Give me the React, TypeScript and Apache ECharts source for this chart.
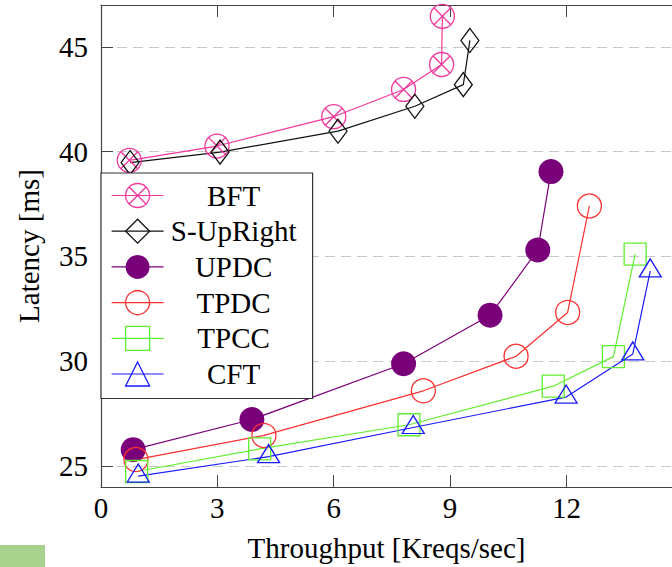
import React, { useEffect, useRef } from "react";
import * as echarts from "echarts";

const seriesNames = ["BFT", "S-UpRight", "UPDC", "TPDC", "TPCC", "CFT"];

const bftX = [0.73, 2.99, 6.0, 7.8, 8.78, 8.8];
const bftY = [39.59, 40.27, 41.67, 42.97, 44.16, 46.46];
const supX = [0.75, 3.07, 6.11, 8.09, 9.34, 9.51];
const supY = [39.48, 39.98, 40.98, 42.17, 43.2, 45.31];
const updcX = [0.83, 3.89, 7.8, 10.03, 11.26, 11.6];
const updcY = [25.78, 27.22, 29.88, 32.2, 35.31, 39.05];
const tpdcX = [0.9, 4.2, 8.31, 10.7, 12.03, 12.59];
const tpdcY = [25.31, 26.46, 28.59, 30.24, 32.33, 37.41];
const tpccX = [0.92, 4.09, 7.94, 11.66, 13.21, 13.77];
const tpccY = [24.74, 25.82, 26.97, 28.81, 30.22, 35.11];
const cftX = [0.96, 4.32, 8.05, 11.99, 13.71, 14.16];
const cftY = [24.52, 25.45, 26.84, 28.29, 30.35, 34.31];

const yTicks = [25, 30, 35, 40, 45];
const xTickInterval = 3;

const FONT = "'Liberation Serif', 'Times New Roman', serif";
const OTIMES =
  "path://M0,10 A10,10 0 1,1 20,10 A10,10 0 1,1 0,10 Z M2.93,2.93 L17.07,17.07 M17.07,2.93 L2.93,17.07";

const zip = (xs: number[], ys: number[]) => xs.map((x, i) => [x, ys[i]]);

export default function App() {
  const ref = useRef<HTMLDivElement>(null);
  useEffect(() => {
    if (!ref.current) return;
    const chart = echarts.init(ref.current, null, { renderer: "svg" });
    const axisColor = "#444";
    const mk = (
      name: string,
      data: number[][],
      color: string,
      symbol: string,
      symbolSize: any,
      filled: boolean,
      extra: any = {}
    ) => ({
      type: "line",
      name,
      data,
      symbol,
      symbolSize,
      showSymbol: true,
      lineStyle: { color, width: 1.2 },
      itemStyle: filled
        ? { color, borderWidth: 0 }
        : { color: "rgba(255,255,255,0)", borderColor: color, borderWidth: 1.3 },
      emphasis: { disabled: true },
      ...extra,
    });
    chart.setOption({
      animation: false,
      grid: { left: 101, top: 5, right: 0, bottom: 80 },
      xAxis: [
        {
          type: "value",
          min: 0,
          max: 14.72,
          interval: xTickInterval,
          name: "Throughput [Kreqs/sec]",
          nameLocation: "middle",
          nameGap: 46,
          nameTextStyle: { fontFamily: FONT, fontSize: 29, color: "#000" },
          axisLine: { show: true, lineStyle: { color: axisColor, width: 1.2 } },
          axisTick: { show: true, inside: true, length: 12, lineStyle: { color: axisColor } },
          axisLabel: {
            fontFamily: FONT,
            fontSize: 29,
            color: "#000",
            margin: 6,
            showMaxLabel: false,
          },
          splitLine: { show: false },
        },
        {
          type: "value",
          position: "top",
          min: 0,
          max: 14.72,
          interval: xTickInterval,
          axisLine: { show: true, lineStyle: { color: axisColor, width: 1.2 } },
          axisTick: { show: true, inside: true, length: 12, lineStyle: { color: axisColor } },
          axisLabel: { show: false },
          splitLine: { show: false },
        },
      ],
      yAxis: {
        type: "value",
        min: 24,
        max: 47,
        name: "Latency [ms]",
        nameLocation: "middle",
        nameGap: 58,
        nameTextStyle: { fontFamily: FONT, fontSize: 29, color: "#000" },
        axisLine: { show: true, lineStyle: { color: axisColor, width: 1.2 } },
        axisTick: {
          show: true,
          inside: true,
          length: 12,
          customValues: yTicks,
          lineStyle: { color: axisColor },
        },
        axisLabel: {
          fontFamily: FONT,
          fontSize: 29,
          color: "#000",
          margin: 13,
          customValues: yTicks,
        },
        splitLine: {
          show: true,
          lineStyle: { color: "#c8c8c8", type: [10, 6], width: 1.2 },
        },
      },
      legend: {
        orient: "vertical",
        left: 101,
        top: 173,
        backgroundColor: "#fff",
        borderColor: "#333",
        borderWidth: 1.2,
        borderRadius: 0,
        padding: [8, 14, 10, 10],
        itemWidth: 52,
        itemHeight: 30,
        itemGap: 6.7,
        data: seriesNames,
        lineStyle: { width: 1.2 },
        itemStyle: { borderWidth: 1.3 },
        formatter: (n: string) => `{t|${n}}`,
        textStyle: {
          rich: {
            t: {
              width: 130,
              align: "center",
              fontFamily: FONT,
              fontSize: 29,
              lineHeight: 30,
              color: "#000",
            },
          },
        },
        selectedMode: false,
      },
      series: [
        mk("BFT", zip(bftX, bftY), "#f2389c", OTIMES, 24, false),
        mk("S-UpRight", zip(supX, supY), "#111111", "diamond", [18, 24], false),
        mk("UPDC", zip(updcX, updcY), "#7a007a", "circle", 25, true),
        mk("TPDC", zip(tpdcX, tpdcY), "#ff3030", "circle", 24, false),
        mk("TPCC", zip(tpccX, tpccY), "#62ee30", "rect", 22, false),
        mk("CFT", zip(cftX, cftY), "#1a1aff", "triangle", [22, 18], false, {
          symbolOffset: [0, -3],
        }),
      ],
      graphic: [
        {
          type: "rect",
          left: 0,
          top: 545,
          shape: { width: 45, height: 22 },
          style: { fill: "#a9d18e" },
          silent: true,
        },
      ],
    });
    return () => chart.dispose();
  }, []);
  return (
    <div
      ref={ref}
      style={{ position: "fixed", left: 0, top: 0, width: 672, height: 567, background: "#fff" }}
    />
  );
}
